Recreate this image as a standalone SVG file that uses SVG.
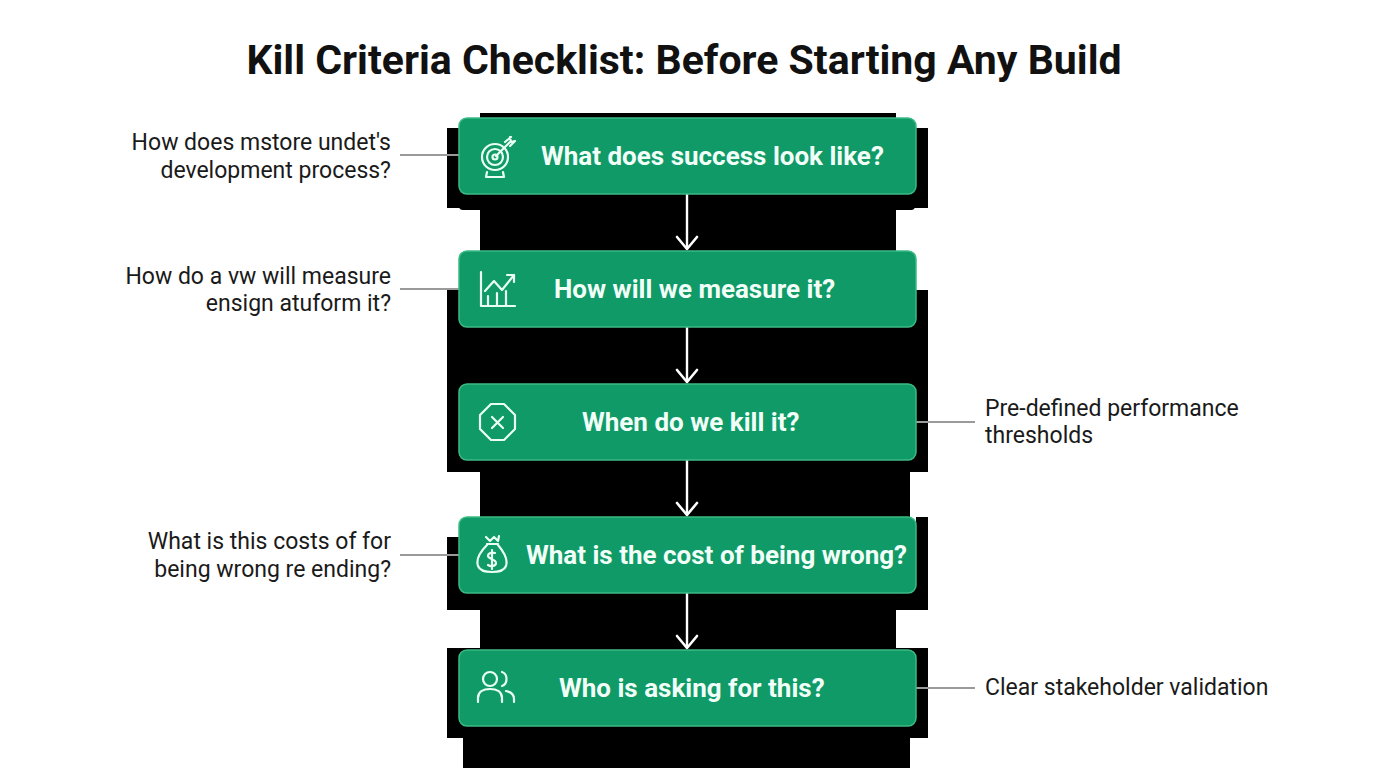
<svg xmlns="http://www.w3.org/2000/svg" width="1376" height="768" viewBox="0 0 1376 768">
<defs>
<style>
.title{font-family:Roboto,"Liberation Sans",sans-serif;font-weight:700;font-size:41px;fill:#111}
.box{fill:#0f9a67;stroke:#3dbb85;stroke-width:1.5}
.bt{font-family:Roboto,"Liberation Sans",sans-serif;font-weight:700;font-size:26px;fill:#f2fff8}
.lbl{font-family:Roboto,"Liberation Sans",sans-serif;font-size:23px;fill:#1a1a1a}
.ic{fill:none;stroke:#eafff4;stroke-width:2.2;stroke-linecap:round;stroke-linejoin:round}
.lead{stroke:#9a9a9a;stroke-width:2.2;fill:none}
.arr{stroke:#ffffff;stroke-width:2.4;fill:none}
.bg{fill:#000}
</style>
<marker id="ah" markerWidth="16" markerHeight="24" refX="14" refY="12" orient="auto" markerUnits="userSpaceOnUse" viewBox="0 0 16 24">
<path d="M2,2 L14,12 L2,22" fill="none" stroke="#fff" stroke-width="2.6" stroke-linecap="round" stroke-linejoin="round"/>
</marker>
</defs>
<rect width="1376" height="768" fill="#fff"/>
<text class="title" x="684" y="74" text-anchor="middle">Kill Criteria Checklist: Before Starting Any Build</text>
<g id="backdrop">
<rect class="bg" x="480" y="113" width="416" height="100"/>
<rect class="bg" x="447" y="128" width="481" height="80"/>
<rect class="bg" x="459" y="190" width="456" height="20" rx="4"/>
<rect class="bg" x="480" y="208" width="416" height="50"/>
<rect class="bg" x="447" y="290" width="481" height="182"/>
<rect class="bg" x="480" y="465" width="430" height="55"/>
<rect class="bg" x="447" y="537" width="481" height="73"/>
<rect class="bg" x="916" y="517" width="12" height="30"/>
<rect class="bg" x="480" y="600" width="416" height="55"/>
<rect class="bg" x="447" y="648" width="481" height="90"/>
<rect class="bg" x="463" y="730" width="447" height="38"/>
</g>
<g id="connectors">
<line class="lead" x1="400" y1="155" x2="459" y2="155"/>
<line class="lead" x1="400" y1="289" x2="459" y2="289"/>
<line class="lead" x1="916" y1="422" x2="975" y2="422"/>
<line class="lead" x1="400" y1="555" x2="459" y2="555"/>
<line class="lead" x1="916" y1="688" x2="975" y2="688"/>
<line class="arr" x1="687" y1="194" x2="687" y2="249" marker-end="url(#ah)"/>
<line class="arr" x1="687" y1="327" x2="687" y2="382" marker-end="url(#ah)"/>
<line class="arr" x1="687" y1="460" x2="687" y2="515" marker-end="url(#ah)"/>
<line class="arr" x1="687" y1="593" x2="687" y2="648" marker-end="url(#ah)"/>
</g>
<g id="node1">
<rect class="box" x="459" y="118" width="457" height="76" rx="8"/>
<g class="ic">
<circle cx="495" cy="157" r="13"/>
<circle cx="495" cy="157" r="8"/>
<circle cx="495" cy="157" r="2.5"/>
<line x1="496" y1="156" x2="510" y2="142"/>
<path d="M505,142 L511,137 M510,146 L515,141 M510,137 L511,142 L515,141"/>
<path d="M487,172 L486,177 L504,177 L503,172"/>
</g>
<text class="bt" x="541" y="165">What does success look like?</text>
</g>
<g id="node2">
<rect class="box" x="459" y="251" width="457" height="76" rx="8"/>
<g class="ic">
<path d="M481,272 L481,306 L515,306"/>
<path d="M485,291 L494,281 L502,290 L514,275"/>
<path d="M507,275 L514,275 L514,282"/>
<path d="M488,305 L488,296 M497,305 L497,293 M506,305 L506,291"/>
</g>
<text class="bt" x="554" y="298">How will we measure it?</text>
</g>
<g id="node3">
<rect class="box" x="459" y="384" width="457" height="76" rx="8"/>
<g class="ic">
<polygon points="491,404 504,404 515,415 515,429 504,440 491,440 480,429 480,415"/>
<path d="M492,417 L503,428 M503,417 L492,428"/>
</g>
<text class="bt" x="582" y="431">When do we kill it?</text>
</g>
<g id="node4">
<rect class="box" x="459" y="517" width="457" height="76" rx="8"/>
<g class="ic">
<path d="M486,537 L490,541 L494,537 L498,541 L499,536"/>
<path d="M487,544 L498,544"/>
<path d="M487,545 C480,552 476,560 478,566 C480,571 485,572 492,572 C499,572 504,571 506,566 C508,560 504,552 498,545"/>
<path d="M495,553 C492,552 488,553 488,556 C488,559 496,559 496,563 C496,566 491,567 488,565 M492,550 L492,569"/>
</g>
<text class="bt" x="526" y="564">What is the cost of being wrong?</text>
</g>
<g id="node5">
<rect class="box" x="459" y="650" width="457" height="76" rx="8"/>
<g class="ic">
<circle cx="490" cy="679" r="7"/>
<path d="M502,672 C508,674 508,684 502,686"/>
<path d="M478,702 L478,698 C478,692 483,689 490,689 C497,689 502,692 502,698 L502,702"/>
<path d="M506,691 C511,692 514,695 514,699 L514,702"/>
</g>
<text class="bt" x="559" y="697">Who is asking for this?</text>
</g>
<g id="label1">
<text class="lbl" text-anchor="end"><tspan x="391" y="150">How does mstore undet's</tspan><tspan x="391" y="178">development process?</tspan></text>
</g>
<g id="label2">
<text class="lbl" text-anchor="end"><tspan x="391" y="284">How do a vw will measure</tspan><tspan x="391" y="311">ensign atuform it?</tspan></text>
</g>
<g id="label3">
<text class="lbl"><tspan x="985" y="416">Pre-defined performance</tspan><tspan x="985" y="443">thresholds</tspan></text>
</g>
<g id="label4">
<text class="lbl" text-anchor="end"><tspan x="391" y="549">What is this costs of for</tspan><tspan x="391" y="577">being wrong re ending?</tspan></text>
</g>
<g id="label5">
<text class="lbl" x="985" y="695">Clear stakeholder validation</text>
</g>
</svg>
